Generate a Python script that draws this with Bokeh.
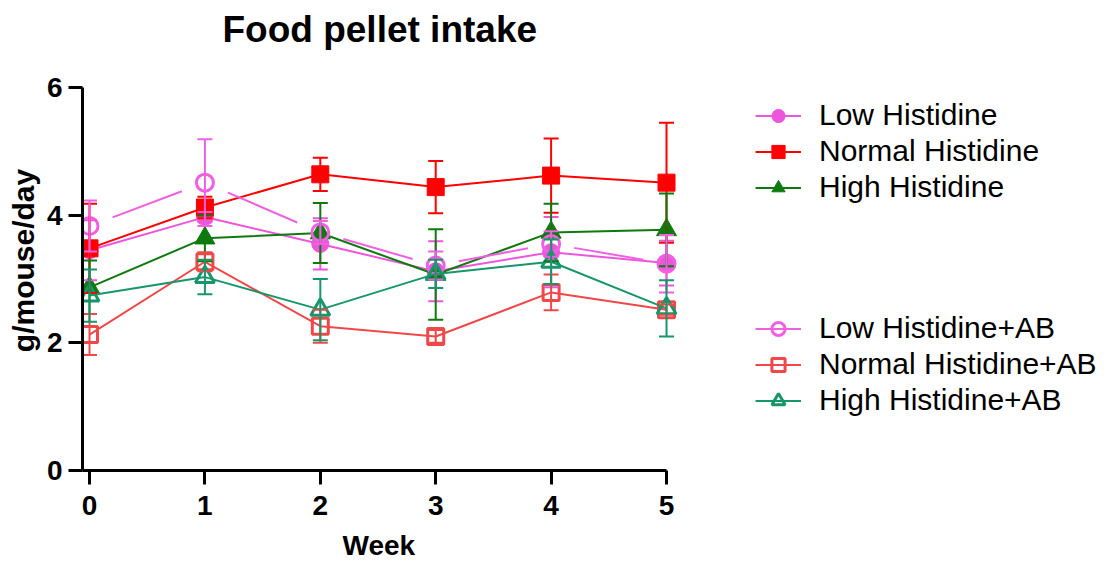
from bokeh.plotting import figure
from bokeh.models import (Whisker, TeeHead, ColumnDataSource, Legend, LegendItem,
                          FixedTicker, Range1d, Title)
from bokeh.embed import file_html
from bokeh.resources import INLINE

# ---- data ----
weeks = [0, 1, 2, 3, 4, 5]
week_ticks = [0, 1, 2, 3, 4, 5]
y_ticks = [0, 2, 4, 6]

low = [3.45, 3.97, 3.55, 3.12, 3.42, 3.25]
low_sd = [0.47, 0.08, 0.40, 0.47, 0.55, 0.35]
normal = [3.48, 4.12, 4.64, 4.44, 4.62, 4.51]
normal_sd = [0.70, 0.17, 0.26, 0.41, 0.58, 0.94]
high = [2.87, 3.64, 3.72, 3.07, 3.73, 3.77]
high_sd = [0.42, 0.36, 0.47, 0.71, 0.45, 0.57]
low_ab = [3.83, 4.51, 3.73, 3.21, 3.55, 3.24]
low_ab_sd = [0.40, 0.68, 0.18, 0.22, 0.20, 0.45]
normal_ab = [2.13, 3.27, 2.26, 2.10, 2.79, 2.52]
normal_ab_sd = [0.32, 0.15, 0.26, 0.10, 0.28, 0.08]
high_ab = [2.74, 3.03, 2.52, 3.08, 3.27, 2.54]
high_ab_sd = [0.41, 0.27, 0.48, 0.22, 0.35, 0.44]

labels = ["Low Histidine", "Normal Histidine", "High Histidine",
          "Low Histidine+AB", "Normal Histidine+AB", "High Histidine+AB"]

FONT = "Liberation Sans"
X_START = -0.0607   # small pad so week-0 markers are not clipped
X_END = 8.804       # frame extends right to host the legend
Y_END = 6.58        # frame extends up a little (axis itself stops at 6)

p = figure(width=1113, height=571, output_backend="svg", toolbar_location=None,
           x_range=Range1d(X_START, X_END), y_range=Range1d(0, Y_END),
           min_border_left=82, min_border_right=8, min_border_top=50,
           min_border_bottom=101)
p.outline_line_color = None
p.grid.visible = False
p.background_fill_color = "white"

p.title.text = "Food pellet intake"
p.title.text_font = FONT
p.title.text_font_style = "bold"
p.title.text_font_size = "37px"
p.title.text_color = "black"
p.title.align = "left"
p.title.offset = 140
p.title.standoff = 1

for ax in (p.xaxis[0], p.yaxis[0]):
    ax.axis_line_width = 3
    ax.axis_line_color = "black"
    ax.major_tick_line_width = 3
    ax.major_tick_line_color = "black"
    ax.major_tick_out = 14
    ax.major_tick_in = 0
    ax.minor_tick_line_color = None
    ax.major_label_text_font = FONT
    ax.major_label_text_font_style = "bold"
    ax.major_label_text_font_size = "28px"
    ax.major_label_text_color = "black"
    ax.axis_label_text_font = FONT
    ax.axis_label_text_font_style = "bold"
    ax.axis_label_text_color = "black"

p.yaxis.axis_label_text_font_size = "30px"
p.xaxis.ticker = FixedTicker(ticks=week_ticks)
p.yaxis.ticker = FixedTicker(ticks=y_ticks)
p.xaxis.bounds = (X_START, 5)
p.yaxis.bounds = (0, 6)
p.yaxis.axis_label = "g/mouse/day"
p.xaxis.major_label_standoff = 11
p.yaxis.major_label_standoff = 6
p.yaxis.axis_label_standoff = 4

# x-axis title, centred under weeks 0..5
week_title = Title(text="Week", align="left", offset=260, text_font=FONT,
                   text_font_style="bold", text_font_size="28px",
                   text_color="black", standoff=21)
p.add_layout(week_title, "below")

series = [
    (low, low_sd, "#EE55DD", "circle", 17, True),
    (normal, normal_sd, "#FF0000", "square", 17, True),
    (high, high_sd, "#0E7A0E", "triangle", 20, True),
    (low_ab, low_ab_sd, "#F060E2", "circle", 17, False),
    (normal_ab, normal_ab_sd, "#F04848", "square", 16, False),
    (high_ab, high_ab_sd, "#17966B", "triangle", 19, False),
]

items = []
for i, (vals, sd, col, mk, sz, filled) in enumerate(series):
    src = ColumnDataSource(dict(
        x=weeks, y=vals,
        lo=[v - s for v, s in zip(vals, sd)],
        hi=[v + s for v, s in zip(vals, sd)],
    ))
    wk = Whisker(source=src, base="x", upper="hi", lower="lo",
                 line_color=col, line_width=2, level="glyph",
                 upper_head=TeeHead(size=15, line_color=col, line_width=2),
                 lower_head=TeeHead(size=15, line_color=col, line_width=2))
    p.add_layout(wk)
    if i == 3:
        # broken connecting segments (gaps near markers)
        xs, ys = [], []
        for k in range(len(weeks) - 1):
            x0, x1 = weeks[k], weeks[k + 1]
            y0, y1 = vals[k], vals[k + 1]
            xs.append([x0 + 0.2 * (x1 - x0), x0 + 0.8 * (x1 - x0)])
            ys.append([y0 + 0.2 * (y1 - y0), y0 + 0.8 * (y1 - y0)])
        ln = p.multi_line(xs, ys, line_color=col, line_width=2)
    else:
        ln = p.line("x", "y", source=src, line_color=col, line_width=2)
    if filled:
        sc = p.scatter("x", "y", source=src, marker=mk, size=sz,
                       fill_color=col, line_color=col, line_width=1)
    else:
        sc = p.scatter("x", "y", source=src, marker=mk, size=sz,
                       fill_color=None, line_color=col, line_width=3)
    items.append(LegendItem(label=labels[i], renderers=[ln, sc]))

# invisible spacer rows separating the two legend groups
blank = p.line(x=[], y=[], line_alpha=0)
spacers = [LegendItem(label=" ", renderers=[blank]) for _ in range(3)]

legend = Legend(items=items[:3] + spacers + items[3:], location=(673, 53),
                orientation="vertical", border_line_color=None,
                background_fill_alpha=0, padding=0, margin=0, spacing=2,
                glyph_width=46, glyph_height=33, label_standoff=18,
                label_text_font=FONT, label_text_font_size="30px",
                label_text_color="black", label_height=33)
p.add_layout(legend, "center")

open("out.html", "w").write(file_html(p, INLINE))
